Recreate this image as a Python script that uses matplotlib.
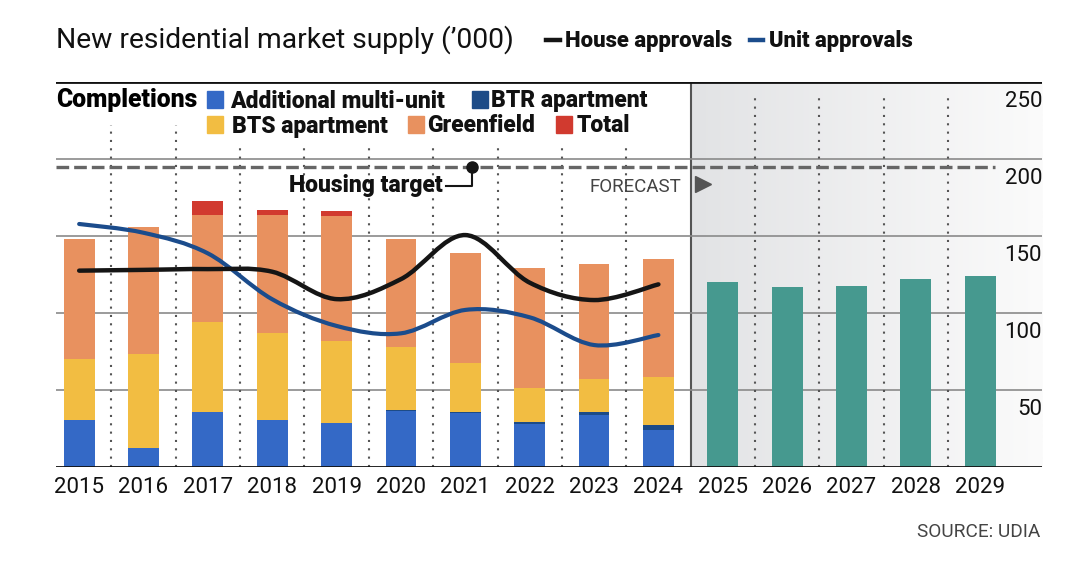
import numpy as np
import matplotlib.pyplot as plt
from matplotlib.path import Path
from matplotlib.patches import PathPatch, Rectangle
from matplotlib.colors import LinearSegmentedColormap

plt.rcParams['font.family'] = ['Roboto', 'DejaVu Sans']

# data ('000)
years = list(range(2015, 2025))
multi_unit = [30.3, 12.5, 35.9, 30.3, 28.4, 36.6, 35.2, 27.9, 33.8, 23.8]
btr = [0, 0, 0, 0, 0, 0.7, 0.8, 1.3, 1.9, 3.7]
bts = [40.0, 60.7, 58.1, 56.9, 53.6, 40.4, 31.5, 22.1, 21.6, 30.9]
greenfield = [77.5, 82.4, 69.4, 76.2, 81.0, 70.3, 71.5, 77.9, 74.7, 76.9]
total_extra = [0, 0, 9.3, 3.7, 3.5, 0, 0, 0, 0, 0]

fc_years = [2025, 2026, 2027, 2028, 2029]
forecast = [120.3, 116.9, 117.3, 122.0, 124.2]

house_appr = [127.5, 128.0, 128.5, 126.8, 109.0, 122.0, 150.6, 119.7, 108.4, 118.6]
unit_appr = [157.8, 152.1, 138.7, 108.9, 91.6, 86.8, 102.0, 97.2, 79.2, 85.7]

target = 195
yticks = [50, 100, 150, 200, 250]

c_multi = '#3469c6'
c_btr = '#1d4b87'
c_bts = '#f2bd42'
c_green = '#e8915f'
c_total = '#d13a2f'
c_fc = '#46998f'
c_unit = '#1b4c8c'

W, H = 1080, 581
fig = plt.figure(figsize=(W / 100, H / 100), dpi=100)


def fx(px):
    return px / W


def fy(py):
    return 1 - py / H


ax = fig.add_axes([fx(56), fy(467), (1042 - 56) / W, (467 - 82) / H])
x0, x1 = 2014.64, 2029.96
ax.set_xlim(x0, x1)
ax.set_ylim(0, 250)
for s in ax.spines.values():
    s.set_visible(False)

# forecast shading
cmap = LinearSegmentedColormap.from_list('sh', ['#e2e3e5', '#fbfbfb'])
ax.imshow(np.linspace(0, 1, 256).reshape(1, -1), cmap=cmap, aspect='auto',
          extent=[2024.5, x1, 0, 250], zorder=0)
ax.axvline(2024.5, color='#555555', lw=1.5, zorder=1)

# grid
for v in yticks:
    ax.axhline(v, color='#111111' if v == 250 else '#8a8a8a',
               lw=2 if v == 250 else 1.2, zorder=1)
    ax.text(1.0, v - 16, str(v), transform=ax.get_yaxis_transform(),
            ha='right', va='baseline', fontsize=16, color='#111111')
ax.axhline(0, color='#111111', lw=2, zorder=5)

# dotted separators
for xd in np.arange(2015.5, 2029, 1):
    if xd == 2024.5:
        continue
    top = 222 if xd < 2017 else (211 if xd < 2024 else 243.5)
    ax.plot([xd, xd], [0, top], color='#555555', lw=1.5,
            linestyle=(0, (1, 3)), zorder=1)

# housing target
ax.plot([x0, 2029.23], [target, target], color='#666666', lw=2.4,
        linestyle=(0, (3.8, 1.5)), zorder=2)

# stacked bars
bw = 0.48
bottom = np.zeros(len(years))
for vals, col in [(multi_unit, c_multi), (btr, c_btr), (bts, c_bts),
                  (greenfield, c_green), (total_extra, c_total)]:
    ax.bar(years, vals, bw, bottom=bottom, color=col, zorder=3)
    bottom += np.array(vals)
ax.bar(fc_years, forecast, bw, color=c_fc, zorder=3)


# smooth approval lines (catmull-rom as bezier path)
def smooth_path(xs, ys):
    pts = np.column_stack([xs, ys]).astype(float)
    ext = np.vstack([pts[0], pts, pts[-1]])
    verts = [pts[0]]
    codes = [Path.MOVETO]
    for i in range(1, len(ext) - 2):
        p0, p1, p2, p3 = ext[i - 1], ext[i], ext[i + 1], ext[i + 2]
        verts += [p1 + (p2 - p0) / 6, p2 - (p3 - p1) / 6, p2]
        codes += [Path.CURVE4] * 3
    return Path(verts, codes)


for vals, col, lw in [(unit_appr, c_unit, 3.0), (house_appr, '#151515', 3.2)]:
    ax.add_patch(PathPatch(smooth_path(years, vals), fill=False, edgecolor=col,
                           lw=lw, capstyle='round', zorder=4))

# annotations
bold = 'heavy'
ax.plot([2021.1], [target], 'o', color='#151515', ms=8, zorder=5)
ax.plot([2021.1, 2021.1, 2020.7], [target, 182.5, 182.5], color='#151515',
        lw=1.5, zorder=5)
ax.text(2020.65, 178.6, 'Housing target', ha='right', va='baseline',
        fontsize=16.5, fontweight=bold, color='#111111', zorder=5)
ax.text(2024.35, 178.6, 'FORECAST', ha='right', va='baseline', fontsize=13.5,
        color='#444444', zorder=5)
ax.plot([2024.7], [183.5], marker='>', color='#555555', ms=11, zorder=5)

ax.set_xticks(years + fc_years)
ax.set_xticklabels([str(y) for y in years + fc_years], fontsize=16,
                   color='#111111')
ax.tick_params(axis='x', length=0, pad=7)
ax.set_yticks([])

# title and legends
fig.text(fx(56), fy(48), 'New residential market supply (\u2019000)',
         fontsize=20.3, color='#111111', va='baseline')
fig.add_artist(plt.Line2D([fx(546), fx(560)], [fy(40), fy(40)],
                          color='#151515', lw=3.2))
fig.text(fx(565), fy(47), 'House approvals', fontsize=15.8,
         fontweight=bold, color='#111111', va='baseline')
fig.add_artist(plt.Line2D([fx(750), fx(763)], [fy(40), fy(40)],
                          color=c_unit, lw=3.2))
fig.text(fx(769), fy(47), 'Unit approvals', fontsize=15.8,
         fontweight=bold, color='#111111', va='baseline')

fig.text(fx(56), fy(107.5), 'Completions', fontsize=17.8, fontweight=bold,
         color='#000000', va='baseline')
legend_items = [
    (207, 107.5, c_multi, 230, 'Additional multi-unit'),
    (472, 107.5, c_btr, 491, 'BTR apartment'),
    (207, 132.5, c_bts, 232, 'BTS apartment'),
    (408, 132.5, c_green, 427, 'Greenfield'),
    (556, 132.5, c_total, 577, 'Total'),
]
for sx, base, col, tx, label in legend_items:
    fig.add_artist(Rectangle((fx(sx), fy(base)), 16 / W, 16 / H,
                             transform=fig.transFigure, color=col))
    fig.text(fx(tx), fy(base), label, fontsize=16.5, fontweight=bold,
             color='#111111', va='baseline')

fig.text(fx(1040), fy(537), 'SOURCE: UDIA', fontsize=13.7, color='#444444',
         ha='right', va='baseline')

fig.savefig('out.png', dpi=100, facecolor='white')
